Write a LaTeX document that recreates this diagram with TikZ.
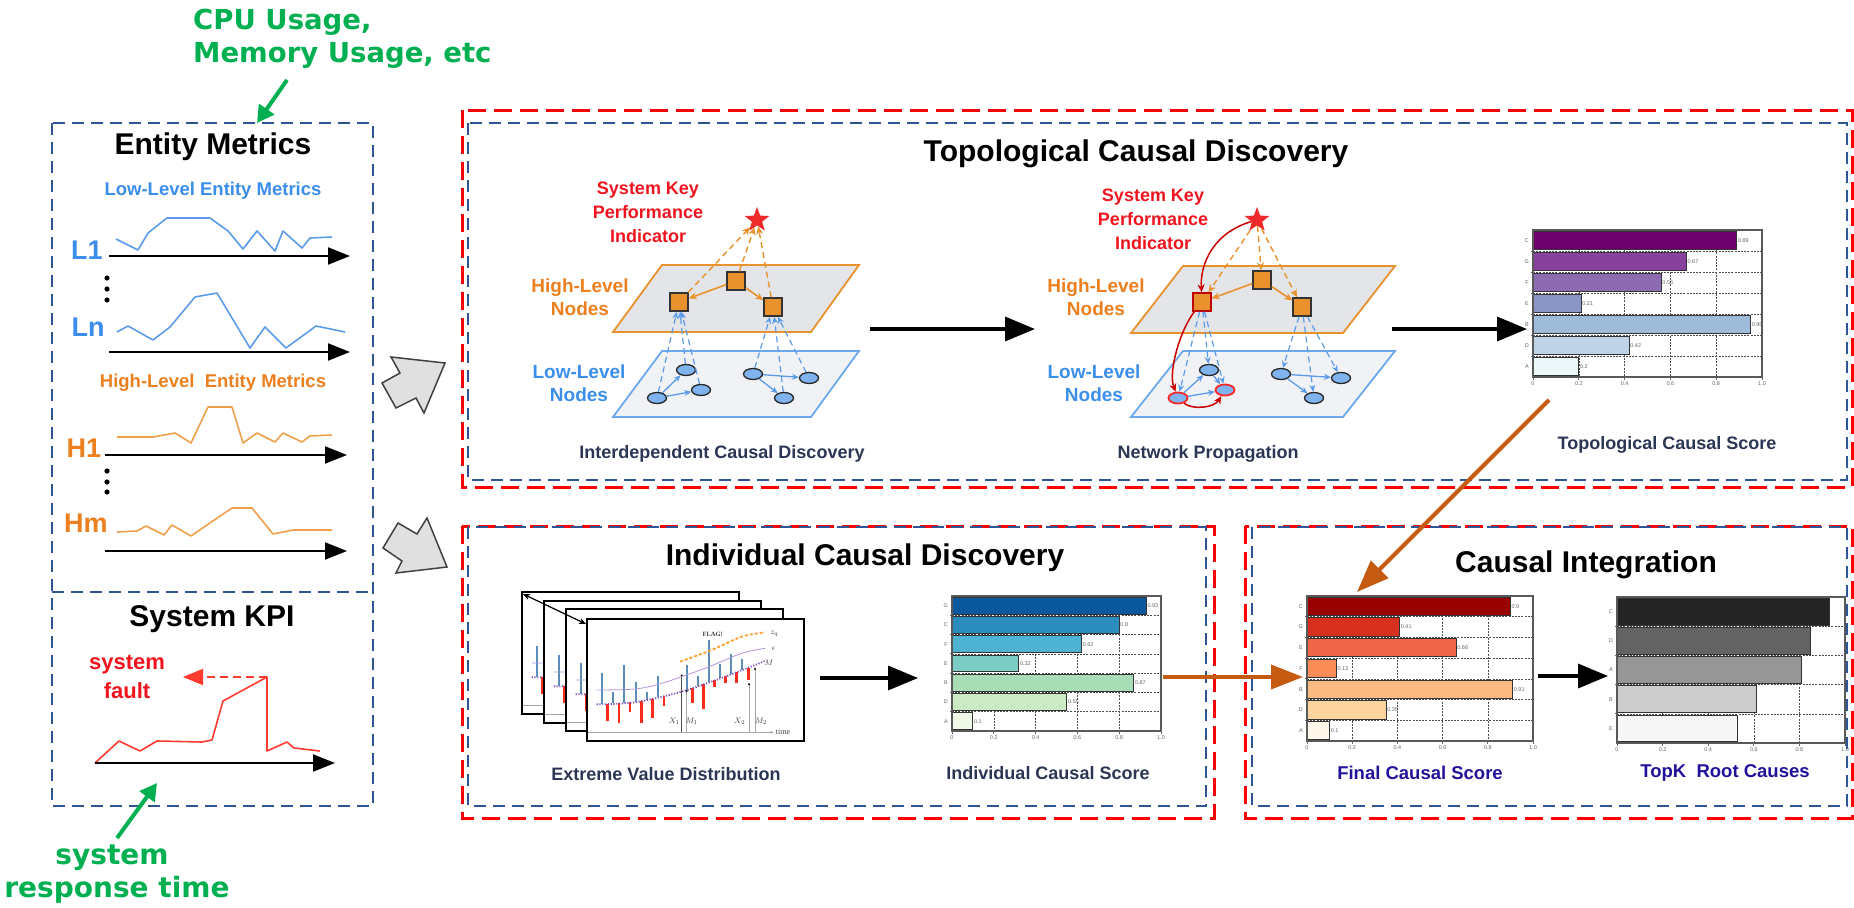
\documentclass[tikz,border=0pt]{standalone}
\usepackage{fontspec}
\setmainfont{Liberation Sans}
\newfontfamily\greenfont{DejaVu Sans}
\newfontfamily\serifff{Liberation Serif}
\usetikzlibrary{arrows.meta,shapes.geometric}

\definecolor{boxblue}{HTML}{2F5597}
\definecolor{lowblue}{HTML}{3B8EEA}
\definecolor{lineblue}{HTML}{5B9BEA}
\definecolor{hiorange}{HTML}{EC7F1E}
\definecolor{lineorange}{HTML}{F0A04B}
\definecolor{kpired}{HTML}{FF3B2F}
\definecolor{txtred}{HTML}{F0141E}
\definecolor{cgreen}{HTML}{00B050}
\definecolor{navy}{HTML}{2B3655}
\definecolor{indigo}{HTML}{22119A}
\definecolor{darkorange}{HTML}{C55A11}
\definecolor{sqorange}{HTML}{E8912D}
\definecolor{ellblue}{HTML}{7FB3EE}
\definecolor{planehi}{HTML}{E4E5E8}
\definecolor{planelo}{HTML}{F1F2F5}
\definecolor{planeblue}{HTML}{6BA8EC}
\definecolor{arrowgray}{HTML}{E0E0E0}
\definecolor{starred}{HTML}{EE2A2A}
\definecolor{evdblue}{HTML}{5B8DB8}
\definecolor{evdred}{HTML}{FF2A1A}
\definecolor{evdpurple}{HTML}{7B4FB0}
\definecolor{evdlilac}{HTML}{B596DD}
\definecolor{evdorange}{HTML}{FFA030}
% bar colours
\definecolor{tpC}{HTML}{6E016B}\definecolor{tpG}{HTML}{88419D}\definecolor{tpF}{HTML}{8C6BB1}
\definecolor{tpE}{HTML}{8C96C6}\definecolor{tpB}{HTML}{9EBCDA}\definecolor{tpD}{HTML}{BFD3E6}
\definecolor{tpA}{HTML}{EDF8FB}
\definecolor{icG}{HTML}{08589E}\definecolor{icC}{HTML}{2B8CBE}\definecolor{icF}{HTML}{4EB3D3}
\definecolor{icE}{HTML}{7BCCC4}\definecolor{icB}{HTML}{A8DDB5}\definecolor{icD}{HTML}{CCEBC5}
\definecolor{icA}{HTML}{F0F9E8}
\definecolor{fcC}{HTML}{990000}\definecolor{fcG}{HTML}{D7301F}\definecolor{fcE}{HTML}{EF6548}
\definecolor{fcF}{HTML}{FC8D59}\definecolor{fcB}{HTML}{FDBB84}\definecolor{fcD}{HTML}{FDD49E}
\definecolor{fcA}{HTML}{FFF7EC}
\definecolor{tkC}{HTML}{252525}\definecolor{tkD}{HTML}{636363}\definecolor{tkA}{HTML}{969696}
\definecolor{tkB}{HTML}{CCCCCC}\definecolor{tkE}{HTML}{F7F7F7}

\tikzset{
  bluebox/.style={draw=boxblue, line width=2pt, dash pattern=on 12pt off 7pt},
  redbox/.style={draw=red, line width=3pt, dash pattern=on 18pt off 8pt},
  axisarrow/.style={draw=black, line width=2pt, -{Triangle[length=22pt,width=17pt]}},
  bigarrow/.style={draw=black, line width=3.5pt, -{Triangle[length=30pt,width=24pt]}},
  orangearrow/.style={draw=darkorange, line width=4pt, -{Triangle[length=32pt,width=24pt]}},
  greenarrow/.style={draw=cgreen, line width=4pt, -{Triangle[length=17pt,width=18pt]}},
  blockarrow/.style={draw=black!75, fill=arrowgray, line width=1.5pt, line join=miter},
  title/.style={font=\bfseries\fontsize{30}{34}\selectfont, inner sep=0},
  subtitle/.style={font=\bfseries\fontsize{18.5}{21}\selectfont, inner sep=0},
  metriclab/.style={font=\bfseries\fontsize{27}{30}\selectfont, inner sep=0},
  caption/.style={font=\bfseries\fontsize{18}{20}\selectfont, text=navy, inner sep=0},
  finalcap/.style={font=\bfseries\fontsize{18.5}{20}\selectfont, text=indigo, inner sep=0},
  greentxt/.style={font=\greenfont\bfseries\fontsize{27.5}{30}\selectfont, text=cgreen, inner sep=0},
  kpilab/.style={font=\bfseries\fontsize{18}{24}\selectfont, text=txtred, align=center, inner sep=0},
  hilab/.style={font=\bfseries\fontsize{19}{23}\selectfont, text=hiorange, align=center, inner sep=0},
  lolab/.style={font=\bfseries\fontsize{19}{23}\selectfont, text=lowblue, align=center, inner sep=0},
  hiplane/.style={draw=sqorange, fill=planehi, line width=1.8pt},
  loplane/.style={draw=planeblue, fill=planelo, line width=1.8pt},
  sq/.style={draw=black!80, fill=sqorange, line width=1.4pt, minimum size=18pt, inner sep=0},
  sqred/.style={sq, draw=red!75!black},
  ell/.style={ellipse, draw=black!85, fill=ellblue, line width=1.3pt, minimum width=19pt, minimum height=11pt, inner sep=0},
  ellred/.style={ell, draw=red!85, line width=1.8pt},
  kstar/.style={star, star points=5, star point ratio=2.4, fill=starred, draw=none, minimum size=26pt, inner sep=0},
  lowarrow/.style={draw=lineblue, line width=1.3pt, -{Stealth[length=7pt,width=6pt]}},
  dashblue/.style={draw=lineblue, line width=1.2pt, dash pattern=on 6pt off 4pt, -{Stealth[length=7pt,width=6pt]}},
  orangesolid/.style={draw=sqorange, line width=1.6pt, -{Stealth[length=8pt,width=7pt]}},
  orangedash/.style={draw=sqorange, line width=1.4pt, dash pattern=on 6pt off 4pt, -{Stealth[length=8pt,width=7pt]}},
  redcurve/.style={draw=red!80!black, line width=1.5pt, -{Stealth[length=8pt,width=7pt]}},
  metricblue/.style={draw=lineblue, line width=1.6pt, line join=round},
  metricorange/.style={draw=lineorange, line width=1.6pt, line join=round},
  kpiline/.style={draw=kpired, line width=1.6pt, line join=round},
  chartgrid/.style={draw=black!70, line width=0.6pt, dash pattern=on 2pt off 1.2pt},
  chartbar/.style={draw=black!80, line width=1pt},
  chartframe/.style={draw=black!65, line width=1.3pt},
  charttick/.style={draw=black!60, line width=0.8pt},
  charttxt/.style={font=\fontsize{5.5}{6}\selectfont, text=black!60, inner sep=1pt},
  evdlab/.style={font=\fontsize{8}{8}\selectfont, text=black!75, inner sep=0},
}

% horizontal bar chart: #1,#2 top-left corner, #3 width, #4 height, #5 rows,
% #6 rows as label/value/colour/printed value
\newcommand{\hbarchart}[6]{%
  \pgfmathsetmacro{\rowh}{#4/#5}%
  \pgfmathtruncatemacro{\nsep}{#5-1}%
  \foreach \g in {0.2,0.4,0.6,0.8}
    \draw[chartgrid] ({#1+\g*#3},#2) -- ({#1+\g*#3},{#2+#4});
  \foreach \r in {1,...,\nsep}{
    \draw[chartgrid] (#1,{#2+\r*\rowh}) -- ({#1+#3},{#2+\r*\rowh});
    \draw[charttick] (#1,{#2+\r*\rowh}) -- ++(-2.5,0);
  }
  \foreach \lab/\val/\col/\txt [count=\i] in {#6}{
    \draw[chartbar, fill=\col] (#1,{#2+(\i-1)*\rowh+1.2}) rectangle ({#1+\val*#3},{#2+\i*\rowh-1.2});
    \node[charttxt, anchor=west] at ({#1+\val*#3},{#2+(\i-0.5)*\rowh}) {\txt};
    \node[charttxt, anchor=east] at ({#1-3},{#2+(\i-0.5)*\rowh}) {\lab};
  }
  \draw[chartframe] (#1,#2) rectangle ({#1+#3},{#2+#4});
  \foreach \tk [count=\j from 0] in {0,0.2,0.4,0.6,0.8,1.0}{
    \draw[charttick] ({#1+\j*0.2*#3},{#2+#4}) -- ++(0,2.5);
    \node[charttxt, anchor=north] at ({#1+\j*0.2*#3},{#2+#4+3}) {\tk};
  }
}

% extreme value plot, in a local frame of one third of a pixel
\newcommand{\evdplot}{%
  \draw[black!35, line width=1.2pt, -{Stealth[length=3pt,width=3pt]}] (10,352) -- (565,352);
  \foreach \x/\yb/\yt in {50/267/175,85/265/232,118/263/150,152/262/200,185/255/232,220/247/183,
                          305/225/150,338/213/183,372/202/75,405/190/148,438/178/117,472/165/132}
    \draw[evdblue, line width=2pt] (\x,\yb) -- (\x,\yt);
  \foreach \x/\yb/\yt in {68/266/318,102/264/325,135/262/292,170/258/325,203/251/308,237/243/272,
                          322/219/265,355/208/282,388/196/215,422/184/205,455/171/205,490/158/195}
    \draw[evdred, line width=2.6pt] (\x,\yb) -- (\x,\yt);
  \draw[black!70, line width=0.9pt] (290,352) -- (290,182);
  \draw[black!35, line width=0.9pt] (305,352) -- (305,228);
  \draw[black!35, line width=0.9pt] (492,352) -- (492,208);
  \draw[black!35, line width=0.9pt] (510,352) -- (510,162);
  \foreach \x/\y in {290/182,305/228,492/208,510/162} \fill[black] (\x,\y) circle (1.1pt);
  \draw[evdlilac, line width=0.8pt] plot[smooth] coordinates {(35,225) (150,222) (230,205) (360,160) (470,115) (540,100)};
  \draw[evdpurple, line width=1.8pt, dash pattern=on 1.2pt off 1.6pt] plot[smooth] coordinates {(35,268) (150,262) (290,230) (420,185) (540,138)};
  \draw[evdorange, line width=1.8pt, dash pattern=on 3pt off 2pt] plot[smooth] coordinates {(285,140) (380,105) (470,65) (540,52)};
}
% labels of the front plot
\newcommand{\evdlabels}{%
  \node[evdlab, font=\serifff\fontsize{8}{8}\selectfont, anchor=west] at (572,352) {time};
  \node[evdlab, font=\serifff\bfseries\fontsize{6.5}{7}\selectfont] at (383,58) {FLAG!};
  \node[evdlab] at (568,57) {$z_q$};
  \node[evdlab] at (566,100) {$\epsilon$};
  \node[evdlab] at (552,143) {$M$};
  \node[evdlab] at (268,320) {$X_1$};
  \node[evdlab] at (320,320) {$M_1$};
  \node[evdlab] at (464,318) {$X_2$};
  \node[evdlab] at (528,318) {$M_2$};
}
% one card of the stack, #1,#2 its top-left corner, #3 = 1 for the labelled front card
\newcommand{\evdcard}[3]{%
  \begin{scope}[shift={(#1-2,#2-4)}, x=0.3333pt, y=-0.3333pt]
    \fill[white] (6,12) rectangle (657,378);
    \begin{scope}
      \clip (6,12) rectangle (657,378);
      \evdplot
    \end{scope}
    \ifnum#3=1 \evdlabels\fi
    \draw[black, line width=2pt] (6,12) rectangle (657,378);
  \end{scope}
}

\begin{document}
\begin{tikzpicture}[x=1pt,y=-1pt]
\useasboundingbox (0,0) rectangle (1854,907);

% ---------------- frames ----------------
\draw[bluebox] (52,123) rectangle (373,806);
\draw[bluebox] (52,592) -- (373,592);
\draw[redbox] (462,110) rectangle (1852,487);
\draw[bluebox] (468,123) rectangle (1847,480);
\draw[redbox] (462,526) rectangle (1214,818);
\draw[bluebox] (468,527) rectangle (1206,806);
\draw[redbox] (1245,526) rectangle (1852,818);
\draw[bluebox] (1252,527) rectangle (1847,806);

% ---------------- entity metrics ----------------
\node[greentxt, anchor=base west] (cpu1) at (193,30) {CPU Usage,};
\node[greentxt, anchor=base west] (cpu2) at (193,63) {Memory Usage, etc};
\coordinate (cpuTail) at (287,80);
\coordinate (entTop) at (257,123);
\draw[greenarrow] (cpuTail) -- (entTop);

\node[title] (entity) at (213,147) {Entity Metrics};
\node[subtitle, text=lowblue] (lowtitle) at (213,191) {Low-Level Entity Metrics};
\node[metriclab, text=lowblue] (L1) at (87,250) {L1};
\node[metriclab, text=lowblue] (Ln) at (88,327) {Ln};
\node[subtitle, text=hiorange] (hititle) at (213,383) {High-Level\ \ Entity Metrics};
\node[metriclab, text=hiorange] (H1) at (84,448) {H1};
\node[metriclab, text=hiorange] (Hm) at (86,523) {Hm};

\draw[metricblue] (116,239) -- (138,250) -- (148,233) -- (167,218) -- (210,218) -- (228,231) -- (243,249)
  -- (257,231) -- (275,251) -- (283,231) -- (302,248) -- (310,238) -- (332,237);
\draw[axisarrow] (109,256) -- (350,256);
\foreach \y in {278,289,300} \fill (107,\y) circle (2.6pt);
\draw[metricblue] (117,332) -- (128,326) -- (153,340) -- (170,327) -- (195,297) -- (217,293) -- (250,348)
  -- (265,327) -- (286,348) -- (316,326) -- (345,332);
\draw[axisarrow] (109,352) -- (350,352);
\draw[metricorange] (117,437) -- (153,437) -- (175,433) -- (191,443) -- (208,407) -- (232,407) -- (243,443)
  -- (257,433) -- (275,442) -- (283,433) -- (302,442) -- (310,436) -- (332,435);
\draw[axisarrow] (105,455) -- (347,455);
\foreach \y in {471,482,492} \fill (107,\y) circle (2.6pt);
\draw[metricorange] (117,532) -- (137,531) -- (146,526) -- (164,535) -- (172,525) -- (191,536) -- (207,525)
  -- (232,508) -- (252,508) -- (273,534) -- (293,530) -- (332,530);
\draw[axisarrow] (105,551) -- (347,551);

% ---------------- system KPI ----------------
\node[title] (kpi) at (212,619) {System KPI};
\node[font=\bfseries\fontsize{22}{29}\selectfont, text=txtred, align=center, inner sep=0] (fault) at (127,677) {system\\fault};
\draw[kpiline] (95,763) -- (119,741) -- (140,751) -- (157,741) -- (202,742) -- (212,740) -- (223,701)
  -- (267,677) -- (267,751) -- (287,742) -- (294,748) -- (320,751);
\coordinate (peak) at (267,677);
\coordinate (faultTip) at (183,677);
\draw[draw=kpired, line width=2pt, dash pattern=on 8pt off 5pt, -{Triangle[length=20pt,width=16pt]}] (peak) -- (faultTip);
\draw[axisarrow] (95,763) -- (335,763);

\node[greentxt, font=\greenfont\bfseries\fontsize{28}{30}\selectfont, anchor=base] (resp1) at (112,864) {system};
\node[greentxt, font=\greenfont\bfseries\fontsize{28}{30}\selectfont, anchor=base] (resp2) at (117,897) {response time};
\coordinate (respTail) at (117,838);
\coordinate (kpiAxis) at (157,783);
\draw[greenarrow] (respTail) -- (kpiAxis);

% ---------------- block arrows ----------------
\draw[blockarrow] (391,357) -- (445,363) -- (424,413) -- (416,398) -- (396,408) -- (382,383) -- (400,373) -- cycle;
\draw[blockarrow] (427,518) -- (447,567) -- (396,573) -- (402,561) -- (383,548) -- (398,523) -- (417,534) -- cycle;

% ---------------- topological causal discovery ----------------
\node[title] (topotitle) at (1136,154) {Topological Causal Discovery};

% interdependent causal discovery
\draw[hiplane] (662,265) -- (859,265) -- (811,332) -- (613,332) -- cycle;
\draw[loplane] (662,351) -- (859,351) -- (811,417) -- (613,417) -- cycle;
\node[kpilab] (kpi1) at (648,212) {System Key\\Performance\\Indicator};
\node[hilab] (hi1) at (580,297) {High-Level\\Nodes};
\node[lolab] (lo1) at (579,383) {Low-Level\\Nodes};
\node[kstar] (k1) at (757,220) {};
\node[sq] (h1a) at (679,302) {};
\node[sq] (h1b) at (736,281) {};
\node[sq] (h1c) at (773,307) {};
\node[ell] (l1a) at (657,398) {};
\node[ell] (l1b) at (686,370) {};
\node[ell] (l1c) at (701,390) {};
\node[ell] (l1d) at (753,374) {};
\node[ell] (l1e) at (809,378) {};
\node[ell] (l1f) at (784,398) {};
\draw[lowarrow] (l1a) -- (l1b);
\draw[lowarrow] (l1a) -- (l1c);
\draw[lowarrow] (l1d) -- (l1e);
\draw[lowarrow] (l1d) -- (l1f);
\draw[dashblue] (l1a) -- (h1a);
\draw[dashblue] (l1b) -- (h1a);
\draw[dashblue] (l1c) -- (h1a);
\draw[dashblue] (l1d) -- (h1c);
\draw[dashblue] (l1f) -- (h1c);
\draw[dashblue] (l1e) -- (h1c);
\draw[orangesolid] (h1b) -- (h1a);
\draw[orangesolid] (h1b) -- (h1c);
\draw[orangedash] (h1a) -- (k1);
\draw[orangedash] (h1b) -- (k1);
\draw[orangedash] (h1c) -- (k1);
\node[caption] (cap1) at (722,454) {Interdependent Causal Discovery};

\coordinate (arr1s) at (870,329);
\coordinate (arr1e) at (1035,329);
\draw[bigarrow] (arr1s) -- (arr1e);

% network propagation
\draw[hiplane] (1183,266) -- (1395,266) -- (1343,333) -- (1131,333) -- cycle;
\draw[loplane] (1183,351) -- (1395,351) -- (1343,417) -- (1131,417) -- cycle;
\node[kpilab] (kpi2) at (1153,219) {System Key\\Performance\\Indicator};
\node[hilab] (hi2) at (1096,297) {High-Level\\Nodes};
\node[lolab] (lo2) at (1094,383) {Low-Level\\Nodes};
\node[kstar] (k2) at (1257,220) {};
\node[sqred] (h2a) at (1202,302) {};
\node[sq] (h2b) at (1262,280) {};
\node[sq] (h2c) at (1302,307) {};
\node[ellred] (l2a) at (1178,398) {};
\node[ell] (l2b) at (1209,370) {};
\node[ellred] (l2c) at (1225,390) {};
\node[ell] (l2d) at (1281,374) {};
\node[ell] (l2e) at (1341,378) {};
\node[ell] (l2f) at (1314,398) {};
\draw[orangedash] (k2) -- (h2a);
\draw[orangedash] (k2) -- (h2b);
\draw[orangedash] (k2) -- (h2c);
\draw[orangesolid] (h2b) -- (h2a);
\draw[orangesolid] (h2b) -- (h2c);
\draw[dashblue] (h2a) -- (l2a);
\draw[dashblue] (h2a) -- (l2b);
\draw[dashblue] (h2a) -- (l2c);
\draw[dashblue] (h2c) -- (l2d);
\draw[dashblue] (h2c) -- (l2f);
\draw[dashblue] (h2c) -- (l2e);
\draw[lowarrow] (l2a) -- (l2b);
\draw[lowarrow] (l2a) -- (l2c);
\draw[lowarrow] (l2b) -- (l2c);
\draw[lowarrow] (l2d) -- (l2e);
\draw[lowarrow] (l2d) -- (l2f);
\draw[redcurve] (k2) .. controls (1215,232) and (1200,262) .. (h2a);
\draw[redcurve] (h2a) .. controls (1180,330) and (1168,372) .. (l2a);
\draw[redcurve] (l2a) .. controls (1192,410) and (1214,408) .. (l2c);
\node[caption] (cap2) at (1208,454) {Network Propagation};

\coordinate (arr2s) at (1392,329);
\coordinate (arr2e) at (1527,329);
\draw[bigarrow] (arr2s) -- (arr2e);

% topological causal score
\hbarchart{1533}{230}{229}{147}{7}{C/0.89/tpC/0.89, G/0.67/tpG/0.67, F/0.56/tpF/0.56, E/0.21/tpE/0.21, B/0.95/tpB/0.95, D/0.42/tpD/0.42, A/0.2/tpA/0.2}
\node[caption] (cap3) at (1667,445) {Topological Causal Score};

% ---------------- individual causal discovery ----------------
\node[title] (indtitle) at (865,558) {Individual Causal Discovery};
\evdcard{522}{592}{0}
\evdcard{544}{601}{0}
\evdcard{566}{609}{0}
\evdcard{587}{619}{1}
\coordinate (stackA) at (523,594);
\coordinate (stackB) at (586,624);
\draw[black, line width=1.2pt, {Stealth[length=7pt,width=6pt]}-{Stealth[length=7pt,width=6pt]}] (stackA) -- (stackB);
\node[caption] (cap4) at (666,774) {Extreme Value Distribution};

\coordinate (arr3s) at (820,678);
\coordinate (arr3e) at (918,678);
\draw[bigarrow] (arr3s) -- (arr3e);

\hbarchart{952}{596}{209}{135}{7}{G/0.93/icG/0.93, C/0.8/icC/0.8, F/0.62/icF/0.62, E/0.32/icE/0.32, B/0.87/icB/0.87, D/0.55/icD/0.55, A/0.1/icA/0.1}
\node[caption] (cap5) at (1048,773) {Individual Causal Score};

% ---------------- causal integration ----------------
\node[title] (inttitle) at (1586,565) {Causal Integration};
\hbarchart{1307}{596}{226}{145}{7}{C/0.9/fcC/0.9, G/0.41/fcG/0.41, E/0.66/fcE/0.66, F/0.13/fcF/0.13, B/0.91/fcB/0.91, D/0.35/fcD/0.35, A/0.1/fcA/0.1}
\node[finalcap] (cap6) at (1420,773) {Final Causal Score};
\hbarchart{1617}{597}{228}{146}{5}{C/0.93/tkC/{}, D/0.85/tkD/{}, A/0.81/tkA/{}, B/0.61/tkB/{}, E/0.53/tkE/{}}
\node[finalcap] (cap7) at (1725,773) {TopK\ \ Root Causes};

\coordinate (arr4s) at (1538,676);
\coordinate (arr4e) at (1608,676);
\draw[bigarrow] (arr4s) -- (arr4e);

% score transfers
\coordinate (topoOut) at (1549,400);
\coordinate (finalTop) at (1357,592);
\draw[orangearrow] (topoOut) -- (finalTop);
\coordinate (indOut) at (1163,677);
\coordinate (finalIn) at (1303,677);
\draw[orangearrow] (indOut) -- (finalIn);

\end{tikzpicture}
\end{document}
